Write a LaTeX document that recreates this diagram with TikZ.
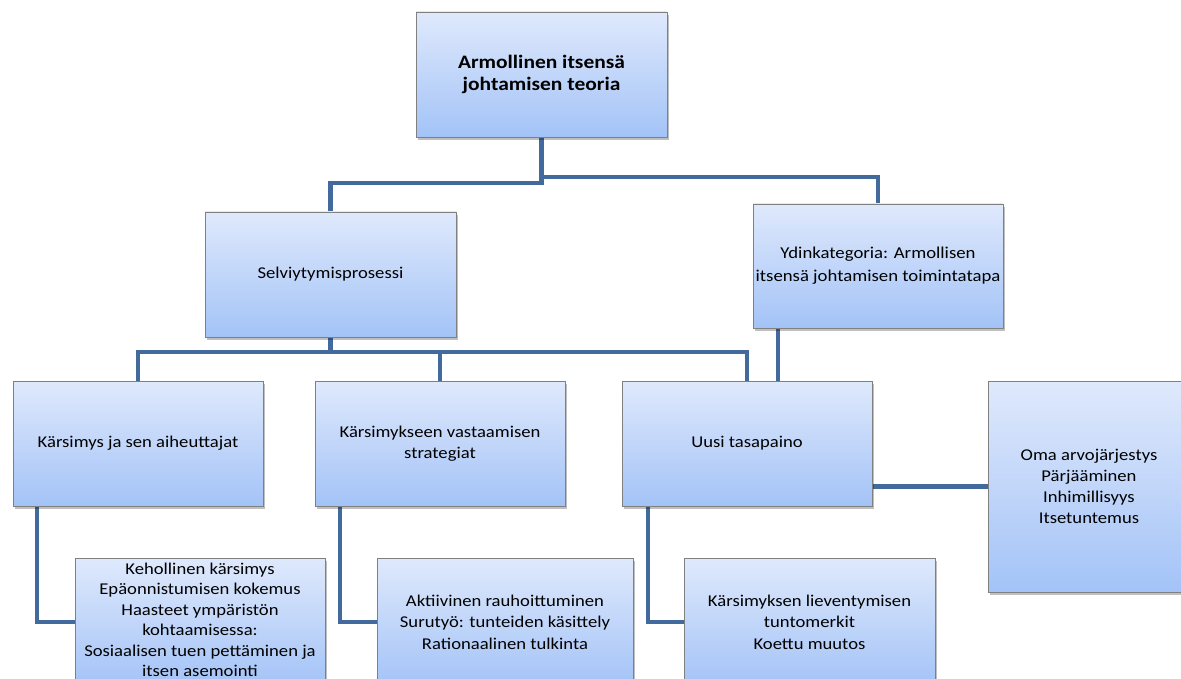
\documentclass[tikz,border=0pt]{standalone}
\usepackage{fontspec}
\setmainfont{Carlito}[FakeStretch=1.13]
\usetikzlibrary{shadows}
\definecolor{conn}{RGB}{67,106,157}
\definecolor{boxtop}{RGB}{223,233,252}
\definecolor{boxbot}{RGB}{163,195,247}
\definecolor{boxedge}{RGB}{128,128,128}
\tikzset{
  box/.style={rectangle, draw=boxedge, line width=0.8pt, top color=boxtop, bottom color=boxbot,
    minimum width=250pt, minimum height=125pt, inner sep=0pt, align=center,
    font=\fontsize{16.5}{21.5}\selectfont,
    drop shadow={shadow xshift=2pt, shadow yshift=-3pt, opacity=0.25, fill=black}},
  txt/.style={inner sep=0pt, align=center, font=\fontsize{16.5}{21.5}\selectfont},
  conn/.style={draw=conn, line width=4.5pt}
}
\begin{document}
\begin{tikzpicture}[x=1pt,y=-1pt]
\useasboundingbox (0,0) rectangle (1181,679);
\path (541.5,74.5) coordinate (ptop)
      (330.5,274.5) coordinate (pselv)
      (878,266) coordinate (pydin)
      (138,443.5) coordinate (pk1)
      (440,443.5) coordinate (pk2)
      (747,443.5) coordinate (pk3)
      (1089,486.5) coordinate (poma)
      (200,622) coordinate (pb1)
      (505,622) coordinate (pb2)
      (809.5,622) coordinate (pb3);
% invisible nodes for connector anchors
\begin{scope}[every node/.style={rectangle, inner sep=0pt}]
\node[minimum width=251pt, minimum height=125pt] (top) at (ptop) {};
\node[minimum width=251pt, minimum height=125pt] (selv) at (pselv) {};
\node[minimum width=250pt, minimum height=124pt] (ydin) at (pydin) {};
\node[minimum width=250pt, minimum height=125pt] (k1) at (pk1) {};
\node[minimum width=250pt, minimum height=125pt] (k2) at (pk2) {};
\node[minimum width=250pt, minimum height=125pt] (k3) at (pk3) {};
\node[minimum width=202pt, minimum height=211pt] (oma) at (poma) {};
\node[minimum width=250pt, minimum height=128pt] (b1) at (pb1) {};
\node[minimum width=256pt, minimum height=128pt] (b2) at (pb2) {};
\node[minimum width=251pt, minimum height=128pt] (b3) at (pb3) {};
\end{scope}
% connectors
\draw[conn] (top.south) -- ++(0,46) -| (selv.north);
\draw[conn] (top.south) -- ++(0,40) -| (ydin.north);
\draw[conn] (selv.south) -- ++(0,16);
\draw[conn] (k1.north) -- ++(0,-29) -| (k3.north);
\draw[conn] (k2.north) -- ++(0,-29);
\draw[conn] ([xshift=-100pt]ydin.south) -- ([xshift=-100pt]ydin.south |- k3.north);
\draw[conn] ([xshift=-101pt]k1.south) |- (b1.west);
\draw[conn] ([xshift=-100pt]k2.south) |- (b2.west);
\draw[conn] ([xshift=-99pt]k3.south) |- (b3.west);
\draw[conn] ([yshift=-43pt]k3.east) -- ([yshift=-43pt]k3.east -| oma.west);
% boxes
\node[box, minimum width=251pt, font=\fontsize{19}{22}\selectfont\bfseries] at (top) {Armollinen itsensä\\johtamisen teoria};
\node[box, minimum width=251pt] at (selv) {Selviytymisprosessi};
\node[box, minimum height=124pt, font=\fontsize{16.6}{23}\selectfont] at (ydin) {Ydinkategoria: Armollisen\\itsensä johtamisen toimintatapa};
\node[box] at (k1) {Kärsimys ja sen aiheuttajat};
\node[box] at (k2) {Kärsimykseen vastaamisen\\strategiat};
\node[box] at (k3) {Uusi tasapaino};
\node[box, minimum width=202pt, minimum height=211pt, font=\fontsize{16.5}{21}\selectfont] at (oma) {Oma arvojärjestys\\Pärjääminen\\Inhimillisyys\\Itsetuntemus};
\node[box, minimum height=128pt] at (b1) {};
\node[txt, font=\fontsize{16.5}{20.5}\selectfont] (b1t) at ([yshift=2pt]b1.center) {Kehollinen kärsimys\\Epäonnistumisen kokemus\\Haasteet ympäristön\\kohtaamisessa:\\Sosiaalisen tuen pettäminen ja\\itsen asemointi};
\node[box, minimum width=256pt, minimum height=128pt] at (b2) {Aktiivinen rauhoittuminen\\Surutyö: tunteiden käsittely\\Rationaalinen tulkinta};
\node[box, minimum width=251pt, minimum height=128pt] at (b3) {Kärsimyksen lieventymisen\\tuntomerkit\\Koettu muutos};
\end{tikzpicture}
\end{document}
